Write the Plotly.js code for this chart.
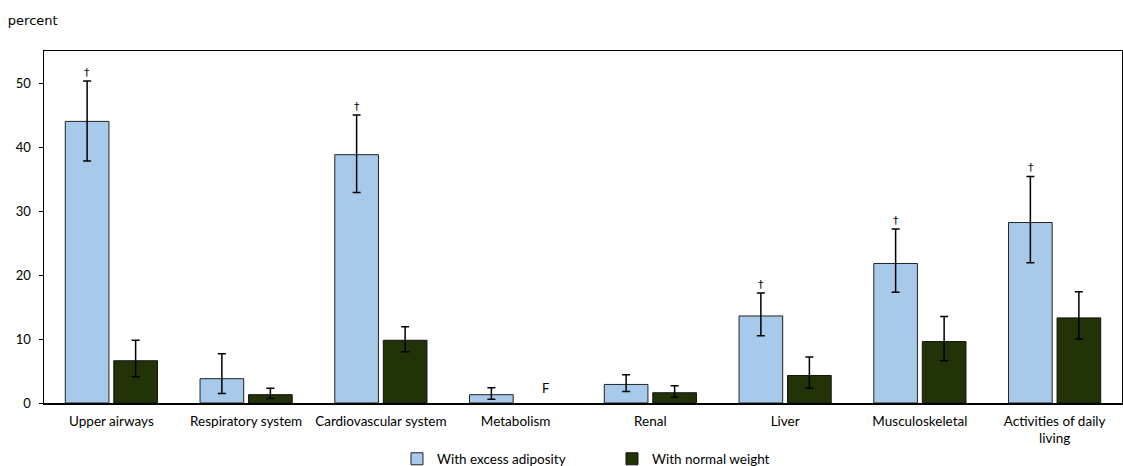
<!DOCTYPE html>
<html><head><meta charset="utf-8">
<script src="https://cdn.plot.ly/plotly-3.0.1.min.js"></script>
<style>html,body{margin:0;padding:0;background:#fff}</style>
</head><body>
<div id="chart" style="width:1123px;height:466px"></div>
<script>
const categories = ["Upper airways","Respiratory system","Cardiovascular system","Metabolism","Renal","Liver","Musculoskeletal","Activities of daily<br>living"];
const excessValues = [44.0, 3.8, 38.8, 1.3, 2.9, 13.6, 21.8, 28.2];
const excessLower  = [37.8, 1.5, 32.9, 0.6, 1.8, 10.5, 17.3, 21.9];
const excessUpper  = [50.3, 7.7, 45.0, 2.4, 4.4, 17.2, 27.2, 35.4];
const normalValues = [6.6, 1.3, 9.8, null, 1.6, 4.3, 9.6, 13.3];
const normalLower  = [4.1, 0.7, 8.0, null, 0.9, 2.3, 6.6, 10.0];
const normalUpper  = [9.8, 2.3, 11.9, null, 2.7, 7.2, 13.5, 17.4];
const excessFlags  = ["†", "", "†", "", "", "†", "†", "†"];
const normalFlags  = ["", "", "", "F", "", "", "", ""];
const seriesNames  = ["With excess adiposity", "With normal weight"];

const FONT = "Lato, Open Sans, sans-serif";
const TFONT = "DejaVu Sans, Verdana, sans-serif";
function plus(v, u){ return v.map((x,i)=> x==null?null:u[i]-x); }
function minus(v, l){ return v.map((x,i)=> x==null?null:x-l[i]); }

const errStyle = {type:'data', symmetric:false, color:'#000', thickness:1.5, width:4};
const traces = [
  {type:'bar', name:seriesNames[0], x:categories, y:excessValues,
   marker:{color:'#A7CAEB', line:{color:'#222', width:1}},
   error_y:Object.assign({array:plus(excessValues,excessUpper), arrayminus:minus(excessValues,excessLower)}, errStyle),
   hoverinfo:'skip'},
  {type:'bar', name:seriesNames[1], x:categories, y:normalValues,
   marker:{color:'#223308', line:{color:'#111', width:1}},
   error_y:Object.assign({array:plus(normalValues,normalUpper), arrayminus:minus(normalValues,normalLower)}, errStyle),
   hoverinfo:'skip'}
];

const annotations = [];
categories.forEach((c,i)=>{
  if (excessFlags[i]) annotations.push({x:c, y:excessUpper[i], xref:'x', yref:'y', text:excessFlags[i], showarrow:false,
    xshift:-24, yanchor:'bottom', yshift:0, font:{family:TFONT, size:11, color:'#000'}});
  if (normalFlags[i]) annotations.push({x:c, y:0, xref:'x', yref:'y', text:normalFlags[i], showarrow:false,
    xshift:30, yanchor:'bottom', yshift:5, font:{family:FONT, size:13, color:'#000'}});
});

const layout = {
  width:1123, height:466,
  margin:{l:44, r:1, t:51, b:63, autoexpand:false},
  paper_bgcolor:'#fff', plot_bgcolor:'#fff',
  font:{family:FONT, size:13, color:'#000'},
  title:{text:'percent', xref:'container', yref:'container', x:0.007, xanchor:'left', y:0.957, yanchor:'middle',
         font:{family:TFONT, size:13, color:'#000'}},
  barmode:'group', bargap:0.28, bargroupgap:0.1,
  xaxis:{showline:true, linecolor:'#000', linewidth:1.5, mirror:true, ticks:'', showgrid:false, automargin:false,
         ticklabelstandoff:5, tickfont:{family:FONT, size:13.5}, fixedrange:true},
  yaxis:{range:[0,55], tickvals:[0,10,20,30,40,50], showline:true, linecolor:'#000', linewidth:1.5, mirror:true,
         ticks:'outside', ticklen:4, tickcolor:'#000', showgrid:false, zeroline:false, automargin:false,
         ticklabelstandoff:5, tickfont:{family:FONT, size:13}, fixedrange:true},
  legend:{orientation:'h', xref:'container', yref:'container', x:0.3535, xanchor:'left', y:0.015, yanchor:'middle', entrywidth:170,
          font:{family:FONT, size:13.5}, itemclick:false},
  annotations:annotations,
  showlegend:true
};
Plotly.newPlot('chart', traces, layout, {displayModeBar:false, staticPlot:true});
</script>
</body></html>
